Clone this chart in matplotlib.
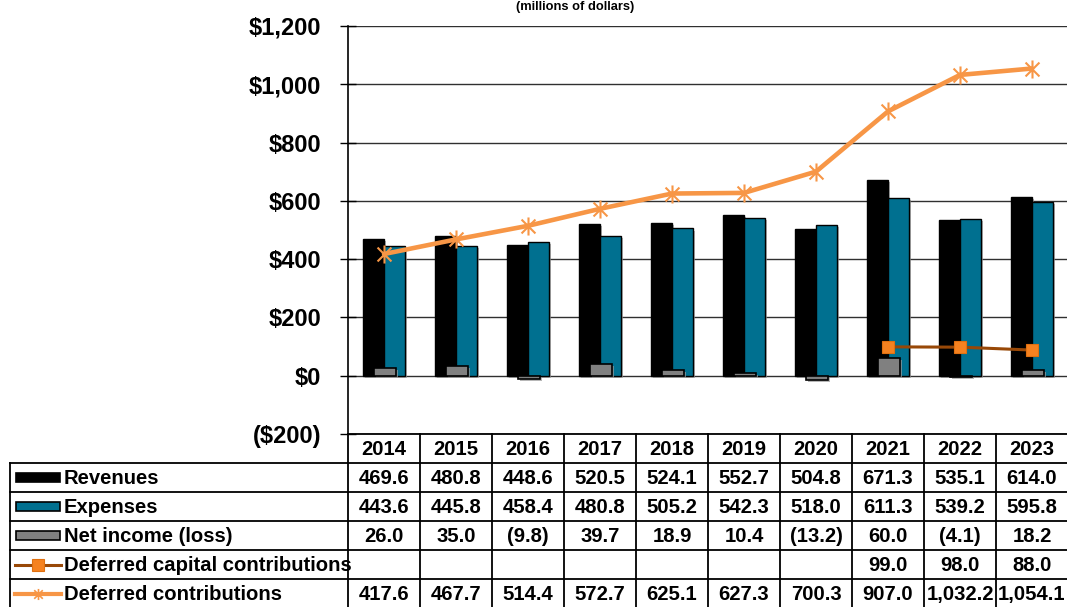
import matplotlib
matplotlib.use("Agg")
import matplotlib.pyplot as plt
import numpy as np
from matplotlib.path import Path
from matplotlib.patches import Rectangle
import matplotlib.patheffects as pe
from matplotlib.lines import Line2D

plt.rcParams['font.family'] = ['Liberation Sans', 'DejaVu Sans']
plt.rcParams['font.weight'] = 'bold'

years = ['2014', '2015', '2016', '2017', '2018', '2019', '2020', '2021', '2022', '2023']
revenues = [469.6, 480.8, 448.6, 520.5, 524.1, 552.7, 504.8, 671.3, 535.1, 614.0]
expenses = [443.6, 445.8, 458.4, 480.8, 505.2, 542.3, 518.0, 611.3, 539.2, 595.8]
net_income = [26.0, 35.0, -9.8, 39.7, 18.9, 10.4, -13.2, 60.0, -4.1, 18.2]
deferred_capital = [np.nan] * 7 + [99.0, 98.0, 88.0]
deferred_contrib = [417.6, 467.7, 514.4, 572.7, 625.1, 627.3, 700.3, 907.0, 1032.2, 1054.1]
yticks = [-200, 0, 200, 400, 600, 800, 1000, 1200]
ytick_labels = ['($200)', '$0', '$200', '$400', '$600', '$800', '$1,000', '$1,200']
series_names = ['Revenues', 'Expenses', 'Net income (loss)',
                'Deferred capital contributions', 'Deferred contributions']

C_REV = '#000000'
C_EXP = '#007090'
C_NET = '#808080'
C_DCC_LINE = '#984807'
C_DCC_MK = '#F58220'
C_DC = '#F79646'

W, H = 1067, 607
fig = plt.figure(figsize=(W / 100, H / 100), dpi=100)

ax_left, ax_right, ax_top, ax_bot = 348, 1068, 26, 434
ax = fig.add_axes([ax_left / W, 1 - ax_bot / H, (ax_right - ax_left) / W, (ax_bot - ax_top) / H])
ax.set_xlim(-0.5, len(years) - 0.5)
ax.set_ylim(-200, 1200)

x = np.arange(len(years))
shadow = [pe.SimplePatchShadow(offset=(1.5, -1.5), shadow_rgbFace='#999999', alpha=0.7), pe.Normal()]
b1 = ax.bar(x - 0.15, revenues, width=0.29, color=C_REV, edgecolor='black', linewidth=1, zorder=3)
b2 = ax.bar(x + 0.15, expenses, width=0.29, color=C_EXP, edgecolor='black', linewidth=1, zorder=3)
b3 = ax.bar(x + 0.01, net_income, width=0.31, color=C_NET, edgecolor='black', linewidth=1.2, zorder=4)
for bars in (b1, b2, b3):
    for p in bars:
        p.set_path_effects(shadow)

star = Path([(-1, -1), (1, 1), (-1, 1), (1, -1), (0, -1.3), (0, 1.3)],
            [Path.MOVETO, Path.LINETO, Path.MOVETO, Path.LINETO, Path.MOVETO, Path.LINETO])

ax.plot(x, deferred_contrib, color=C_DC, lw=3.3, zorder=5, solid_capstyle='round')
ax.plot(x, deferred_contrib, linestyle='none', marker=star, markersize=13,
        markeredgecolor=C_DC, markerfacecolor='none', markeredgewidth=1.5, zorder=6)
ax.plot(x, deferred_capital, color=C_DCC_LINE, lw=2.2, zorder=5)
ax.plot(x, deferred_capital, linestyle='none', marker='s', markersize=9,
        markerfacecolor=C_DCC_MK, markeredgecolor='#E07010', markeredgewidth=0.8, zorder=6)

ax.set_yticks(yticks)
ax.set_yticklabels(ytick_labels, fontsize=17, fontweight='bold')
ax.tick_params(axis='y', direction='inout', length=11, width=1, pad=14)
ax.set_xticks([])
ax.grid(axis='y', color='#303030', linewidth=1, zorder=1)
for s in ['top', 'right', 'bottom']:
    ax.spines[s].set_visible(False)
ax.spines['left'].set_linewidth(1.2)
ax.set_axisbelow(True)

# title
fig.text(575 / W, 1 - 7 / H, '(millions of dollars)', ha='center', va='center',
         fontsize=9.3, fontweight='bold')

# table overlay
tab = fig.add_axes([0, 0, 1, 1])
tab.set_xlim(0, W)
tab.set_ylim(H, 0)
tab.axis('off')
tab.patch.set_alpha(0)

col_w = 72
hdr_top, hdr_bot = 434, 463
row_h = 29
n_rows = 5
bottom = hdr_bot + row_h * n_rows
lc = 'black'
lw = 1.3

tab.plot([ax_left, W], [hdr_top, hdr_top], color=lc, lw=lw)
for r in range(n_rows + 1):
    y = hdr_bot + r * row_h
    tab.plot([10, W], [y, y], color=lc, lw=lw)
for i in range(len(years) + 1):
    xx = ax_left + i * col_w
    tab.plot([xx, xx], [hdr_top, bottom], color=lc, lw=lw)
tab.plot([10, 10], [hdr_bot, bottom], color=lc, lw=lw)

fs = 14.6
for i, yr in enumerate(years):
    cx = ax_left + (i + 0.5) * col_w
    tab.text(cx, (hdr_top + hdr_bot) / 2 + 1, yr, ha='center', va='center', fontsize=fs, fontweight='bold')


def fmt(v):
    if v is None or (isinstance(v, float) and np.isnan(v)):
        return ''
    s = f'{abs(v):,.1f}'
    return f'({s})' if v < 0 else s


rows = [revenues, expenses, net_income, deferred_capital, deferred_contrib]
for r, vals in enumerate(rows):
    cy = hdr_bot + r * row_h + row_h / 2 + 1
    for i, v in enumerate(vals):
        cx = ax_left + (i + 0.5) * col_w
        tab.text(cx, cy, fmt(v), ha='center', va='center', fontsize=fs, fontweight='bold')
    tab.text(64, cy, series_names[r], ha='left', va='center', fontsize=fs, fontweight='bold')
    ky = cy - 1
    if r < 3:
        col = [C_REV, C_EXP, C_NET][r]
        tab.add_patch(Rectangle((16, ky - 4.5), 44, 9, facecolor=col, edgecolor='black', lw=1.2))
    elif r == 3:
        tab.add_line(Line2D([15, 61], [ky, ky], color=C_DCC_LINE, lw=2.2))
        tab.plot([38], [ky], marker='s', markersize=9, markerfacecolor=C_DCC_MK,
                 markeredgecolor='#E07010', markeredgewidth=0.8)
    else:
        tab.add_line(Line2D([15, 61], [ky, ky], color=C_DC, lw=3))
        tab.plot([38], [ky], marker=star, markersize=8, markeredgecolor=C_DC,
                 markerfacecolor='none', markeredgewidth=1.2)

fig.savefig('out.png', dpi=100)
